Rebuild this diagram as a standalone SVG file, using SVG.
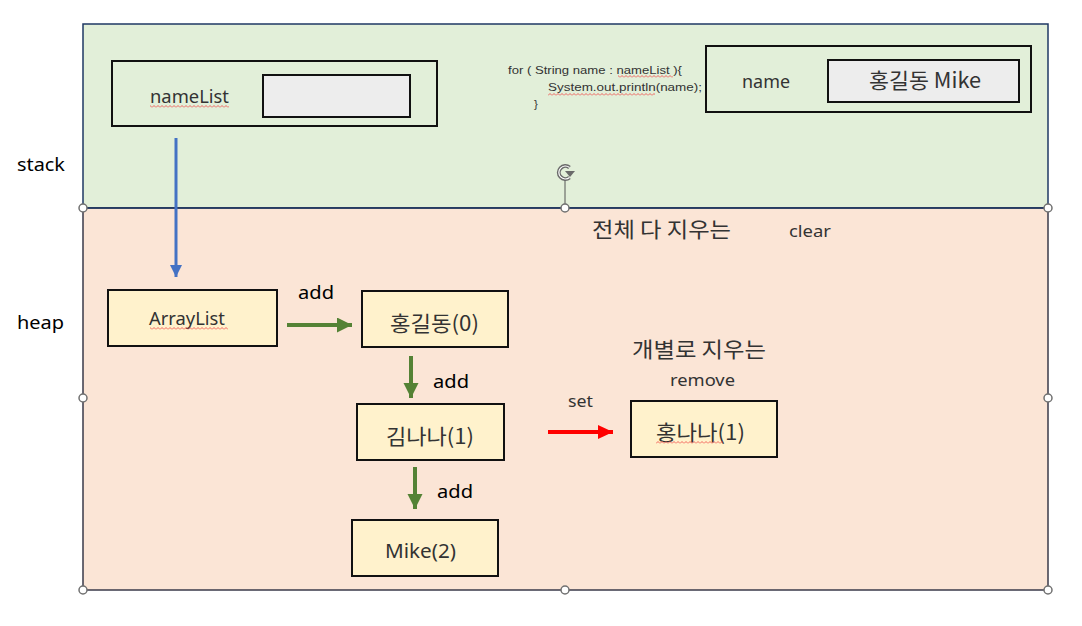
<svg xmlns="http://www.w3.org/2000/svg" width="1082" height="626" viewBox="0 0 1082 626">
<defs>
<style>
.t{font-family:"Noto Sans","Noto Sans CJK KR",sans-serif;fill:#333333}
.k{font-family:"Noto Sans CJK KR","Noto Sans",sans-serif;fill:#333333}
.lbl{font-family:"Noto Sans","Noto Sans CJK KR",sans-serif;fill:#000000;font-size:18px}
.code{font-family:"Liberation Sans",sans-serif;fill:#333333;font-size:11.5px}
.box{fill:none;stroke:#111111;stroke-width:2}
.gray{fill:#EDEDED;stroke:#111111;stroke-width:2}
.node{fill:#FFF2CC;stroke:#111111;stroke-width:2}
.h{fill:#ffffff;stroke:#707070;stroke-width:1.5}
.sq{fill:url(#sq)}
</style>
<pattern id="sq" patternUnits="userSpaceOnUse" width="4" height="3"><path d="M0,2.5 L2,0.5 L4,2.5" fill="none" stroke="#F04040" stroke-width="0.8"/></pattern>
<marker id="ab" markerUnits="userSpaceOnUse" markerWidth="14" markerHeight="14" refX="12" refY="6" orient="auto"><path d="M0,0 L12,6 L0,12 Z" fill="#4472C4"/></marker>
<marker id="ag" markerUnits="userSpaceOnUse" markerWidth="16" markerHeight="16" refX="15" refY="7.5" orient="auto"><path d="M0,0 L15,7.5 L0,15 Z" fill="#548235"/></marker>
<marker id="ar" markerUnits="userSpaceOnUse" markerWidth="16" markerHeight="16" refX="15" refY="7" orient="auto"><path d="M0,0 L15,7 L0,14 Z" fill="#FF0000"/></marker>
</defs>

<g id="stack">
<rect x="83" y="24" width="965" height="184" fill="#E2EFD9" stroke="#1F3864" stroke-width="1.5"/>
<text x="17" y="171" class="lbl" textLength="48" lengthAdjust="spacingAndGlyphs">stack</text>
</g>
<g id="heap">
<rect x="83" y="208" width="965" height="382" fill="#FBE5D6" stroke="#3A3A4A" stroke-width="1.5"/>
<line x1="83" y1="208" x2="1048" y2="208" stroke="#1F3864" stroke-width="1.5"/>
<text x="17" y="329" class="lbl" textLength="47" lengthAdjust="spacingAndGlyphs">heap</text>
</g>

<g id="namelist">
<rect x="112" y="61" width="325" height="65" class="box"/>
<text x="150" y="103" class="t" font-size="18" textLength="79" lengthAdjust="spacingAndGlyphs">nameList</text>
<rect x="150" y="105" width="79" height="3" class="sq"/>
<rect x="263" y="75" width="147" height="42" class="gray"/>
</g>

<g id="code">
<text x="508" y="74" class="code" textLength="174" lengthAdjust="spacingAndGlyphs">for ( String name : nameList ){</text>
<rect x="618" y="75" width="55" height="3" class="sq"/>
<text x="548" y="91" class="code" textLength="154" lengthAdjust="spacingAndGlyphs">System.out.println(name);</text>
<rect x="548" y="93" width="107" height="3" class="sq"/>
<text x="534" y="108" class="code">}</text>
</g>

<g id="name">
<rect x="706" y="46" width="325" height="66" class="box"/>
<text x="742" y="88" class="t" font-size="18" textLength="48" lengthAdjust="spacingAndGlyphs">name</text>
<rect x="828" y="60" width="191" height="42" class="gray"/>
<text x="869" y="88" class="k" font-size="21" textLength="112" lengthAdjust="spacingAndGlyphs">홍길동 Mike</text>
</g>

<g id="notes">
<text x="592" y="237" class="k" font-size="21" fill="#404040" textLength="139" lengthAdjust="spacingAndGlyphs">전체 다 지우는</text>
<text x="789" y="237" class="t" font-size="17" textLength="42" lengthAdjust="spacingAndGlyphs">clear</text>
<text x="632" y="357" class="k" font-size="21" textLength="134" lengthAdjust="spacingAndGlyphs">개별로 지우는</text>
<text x="670" y="386" class="t" font-size="17" textLength="65" lengthAdjust="spacingAndGlyphs">remove</text>
<text x="568" y="407" class="t" font-size="17" textLength="25" lengthAdjust="spacingAndGlyphs">set</text>
<text x="298" y="299" class="lbl" textLength="36" lengthAdjust="spacingAndGlyphs">add</text>
<text x="433" y="388" class="lbl" textLength="36" lengthAdjust="spacingAndGlyphs">add</text>
<text x="437" y="498" class="lbl" textLength="36" lengthAdjust="spacingAndGlyphs">add</text>
</g>

<g id="arraylist">
<rect x="108" y="290" width="169" height="56" class="node"/>
<text x="149" y="325" class="t" font-size="18" textLength="76" lengthAdjust="spacingAndGlyphs">ArrayList</text>
<rect x="150" y="327" width="78" height="3" class="sq"/>
</g>
<g id="n0">
<rect x="362" y="291" width="146" height="56" class="node"/>
<text x="390" y="331" class="k" font-size="21" fill="#111" textLength="89" lengthAdjust="spacingAndGlyphs">홍길동(0)</text>
</g>
<g id="n1">
<rect x="357" y="404" width="147" height="56" class="node"/>
<text x="386" y="444" class="k" font-size="21" fill="#111" textLength="88" lengthAdjust="spacingAndGlyphs">김나나(1)</text>
</g>
<g id="n2">
<rect x="352" y="520" width="146" height="56" class="node"/>
<text x="385" y="558" class="t" font-size="19" fill="#111" textLength="71" lengthAdjust="spacingAndGlyphs">Mike(2)</text>
</g>
<g id="n3">
<rect x="631" y="401" width="146" height="56" class="node"/>
<text x="656" y="440" class="k" font-size="21" fill="#111" textLength="89" lengthAdjust="spacingAndGlyphs">홍나나(1)</text>
<rect x="656" y="441" width="67" height="3" class="sq"/>
</g>

<g id="connectors" fill="none">
<line x1="176" y1="138" x2="176" y2="277" stroke="#4472C4" stroke-width="3" marker-end="url(#ab)"/>
<line x1="287" y1="325" x2="352" y2="325" stroke="#548235" stroke-width="4" marker-end="url(#ag)"/>
<line x1="411" y1="356" x2="411" y2="398" stroke="#548235" stroke-width="4" marker-end="url(#ag)"/>
<line x1="415" y1="467" x2="415" y2="509" stroke="#548235" stroke-width="4" marker-end="url(#ag)"/>
<line x1="548" y1="432" x2="613" y2="432" stroke="#FF0000" stroke-width="4" marker-end="url(#ar)"/>
</g>

<g id="handles">
<line x1="565" y1="180" x2="565" y2="204" stroke="#555" stroke-width="1"/>
<path d="M569.5,167.5 A6.5,6.5 0 1 0 569.5,177.5" fill="none" stroke="#6a6a6a" stroke-width="4"/>
<path d="M569.5,167.5 A6.5,6.5 0 1 0 569.5,177.5" fill="none" stroke="#ffffff" stroke-width="1.2"/>
<path d="M565,171 L575,171 L570,177 Z" fill="#6a6a6a"/>
<circle cx="83" cy="208" r="4" class="h"/>
<circle cx="565" cy="208" r="4" class="h"/>
<circle cx="1048" cy="208" r="4" class="h"/>
<circle cx="83" cy="398" r="4" class="h"/>
<circle cx="1048" cy="398" r="4" class="h"/>
<circle cx="83" cy="590" r="4" class="h"/>
<circle cx="565" cy="590" r="4" class="h"/>
<circle cx="1048" cy="590" r="4" class="h"/>
</g>
</svg>
